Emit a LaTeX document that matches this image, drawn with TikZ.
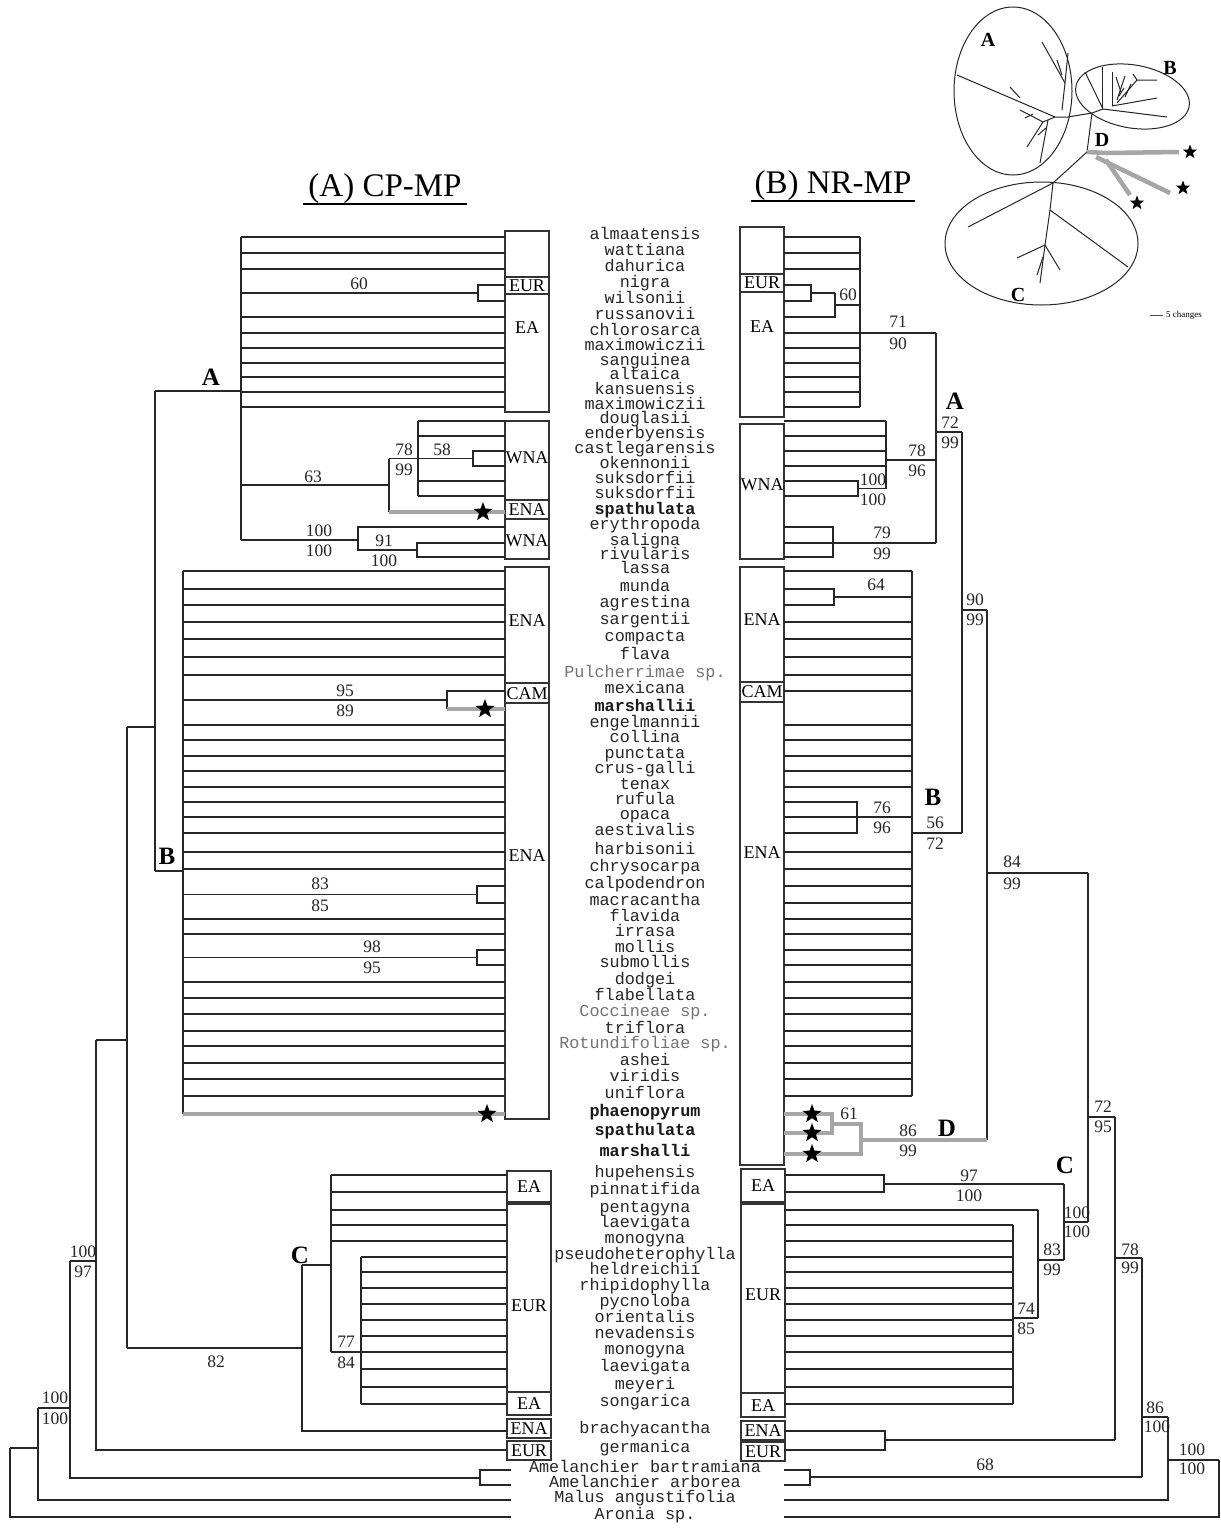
\documentclass[tikz,border=0pt]{standalone}
\usepackage{fontspec}
\setmainfont{Liberation Serif}
\newfontfamily\monof{Liberation Mono}
\usetikzlibrary{shapes.geometric}
\begin{document}
\begin{tikzpicture}[x=1pt,y=-1pt,
  br/.style={line width=1.3pt, black!85},
  gbr/.style={line width=4pt, black!35},
  bx/.style={line width=1.1pt, black!80},
  reg/.style={font=\fontsize{18}{18}\selectfont, inner sep=0},
  bs/.style={font=\fontsize{17.5}{17.5}\selectfont, inner sep=0, text=black!85},
  cl/.style={font=\fontsize{25}{25}\selectfont\bfseries, inner sep=0},
  tx/.style={font=\monof\fontsize{16.8}{16.8}\selectfont, anchor=mid, inner sep=0, text=black!85},
  txb/.style={font=\monof\fontsize{16.8}{16.8}\selectfont\bfseries, anchor=mid, inner sep=0, text=black!90},
  txg/.style={font=\monof\fontsize{16.8}{16.8}\selectfont, anchor=mid, inner sep=0, text=black!55},
  starn/.style={star, star points=5, star point ratio=2.4, fill=black, draw=none, inner sep=0, minimum size=20pt},
  sstar/.style={star, star points=5, star point ratio=2.4, fill=black, draw=none, inner sep=0, minimum size=15pt},
  ttl/.style={font=\fontsize{33}{33}\selectfont, inner sep=0},
  ins/.style={line width=1pt, black!85},
  insg/.style={line width=4.5pt, black!35}]
\fill[white] (0,0) rectangle (1221,1529);
\useasboundingbox (0,0) rectangle (1221,1529);

% rows
\foreach \i/\y in {1/237,2/253,3/269,4/285,5/301,6/317,7/333,8/348,9/363,10/377,11/392,12/407,13/421,14/436,15/451,16/466,17/481,18/496,19/512,20/527,21/543,22/557,23/571,24/589,25/605,26/622,27/639,28/657,29/675,30/691,31/709,32/725,33/740,34/756,35/771,36/787,37/802,38/817,39/833,40/852,41/869,42/886,43/903,44/919,45/934,46/950,47/965,48/982,49/998,50/1014,51/1031,52/1046,53/1063,54/1079,55/1096,56/1114,57/1133,58/1154,59/1175,60/1192,61/1210,62/1225,63/1241,64/1257,65/1272,66/1288,67/1304,68/1320,69/1336,70/1352,71/1369,72/1387,73/1404,74/1431,75/1450,76/1470,77/1485,78/1500,79/1517}
  \coordinate (r\i) at (0,\y);

% taxon labels
\foreach \i/\t in {1/almaatensis,2/wattiana,3/dahurica,4/nigra,5/wilsonii,6/russanovii,7/chlorosarca,8/maximowiczii,9/sanguinea,10/altaica,11/kansuensis,12/maximowiczii,13/douglasii,14/enderbyensis,15/castlegarensis,16/okennonii,17/suksdorfii,18/suksdorfii,20/erythropoda,21/saligna,22/rivularis,23/lassa,24/munda,25/agrestina,26/sargentii,27/compacta,28/flava,30/mexicana,32/engelmannii,33/collina,34/punctata,35/crus-galli,36/tenax,37/rufula,38/opaca,39/aestivalis,40/harbisonii,41/chrysocarpa,42/calpodendron,43/macracantha,44/flavida,45/irrasa,46/mollis,47/submollis,48/dodgei,49/flabellata,51/triflora,53/ashei,54/viridis,55/uniflora,59/hupehensis,60/pinnatifida,61/pentagyna,62/laevigata,63/monogyna,64/pseudoheterophylla,65/heldreichii,66/rhipidophylla,67/pycnoloba,68/orientalis,69/nevadensis,70/monogyna,71/laevigata,72/meyeri,73/songarica,74/brachyacantha,75/germanica,76/Amelanchier bartramiana,77/Amelanchier arborea,78/Malus angustifolia,79/Aronia sp.}
  \node[tx] (t\i) at (r\i -| 645,0) {\t};
\foreach \i/\t in {19/spathulata,31/marshallii,56/phaenopyrum,57/spathulata,58/marshalli}
  \node[txb] (t\i) at (r\i -| 645,0) {\t};
\foreach \i/\t in {29/Pulcherrimae sp.,50/Coccineae sp.,52/Rotundifoliae sp.}
  \node[txg] (t\i) at (r\i -| 645,0) {\t};

% titles
\node[ttl] (ta) at (385,189) {(A) CP-MP};
\draw[line width=1.2pt] (303,204) -- (467,204);
\node[ttl] (tb) at (833,186) {(B) NR-MP};
\draw[line width=1.2pt] (751,201) -- (915,201);

% ---------------- left boxes
\draw[bx] (505,231) rectangle (549,412);
\draw[bx] (505,277) rectangle (549,294);
\node[reg] (lb1) at (527,286) {EUR};
\node[reg] (lb2) at (527,328) {EA};
\draw[bx] (505,421) rectangle (549,500);
\node[reg] (lb3) at (527,458) {WNA};
\draw[bx] (505,500) rectangle (549,519);
\node[reg] (lb4) at (527,510) {ENA};
\draw[bx] (505,519) rectangle (549,559);
\node[reg] (lb5) at (527,541) {WNA};
\draw[bx] (505,567) rectangle (549,683);
\node[reg] (lb6) at (527,621) {ENA};
\draw[bx] (505,683) rectangle (549,703);
\node[reg] (lb7) at (527,694) {CAM};
\draw[bx] (505,703) rectangle (549,1119);
\node[reg] (lb8) at (527,856) {ENA};
\draw[bx] (507,1171) rectangle (551,1202);
\node[reg] (lb9) at (529,1187) {EA};
\draw[bx] (507,1204) rectangle (551,1415);
\draw[bx] (507,1392) rectangle (551,1415);
\node[reg] (lb10) at (529,1306) {EUR};
\node[reg] (lb11) at (529,1404) {EA};
\draw[bx] (507,1419) rectangle (551,1438);
\node[reg] (lb12) at (529,1429) {ENA};
\draw[bx] (507,1441) rectangle (551,1460);
\node[reg] (lb13) at (529,1451) {EUR};

% ---------------- right boxes
\draw[bx] (740,227) rectangle (784,417);
\draw[bx] (740,274) rectangle (784,292);
\node[reg] (rb1) at (762,283) {EUR};
\node[reg] (rb2) at (762,327) {EA};
\draw[bx] (740,424) rectangle (784,559);
\node[reg] (rb3) at (762,485) {WNA};
\draw[bx] (740,567) rectangle (784,682);
\node[reg] (rb4) at (762,620) {ENA};
\draw[bx] (740,682) rectangle (784,702);
\node[reg] (rb5) at (762,692) {CAM};
\draw[bx] (740,702) rectangle (784,1165);
\node[reg] (rb6) at (762,853) {ENA};
\draw[bx] (741,1169) rectangle (785,1202);
\node[reg] (rb7) at (763,1186) {EA};
\draw[bx] (741,1204) rectangle (785,1417);
\draw[bx] (741,1393) rectangle (785,1417);
\node[reg] (rb8) at (763,1295) {EUR};
\node[reg] (rb9) at (763,1406) {EA};
\draw[bx] (741,1421) rectangle (785,1440);
\node[reg] (rb10) at (763,1431) {ENA};
\draw[bx] (741,1442) rectangle (785,1461);
\node[reg] (rb11) at (763,1452) {EUR};

% ================= LEFT TREE
% clade A
\draw[br] (241,0 |- r1) -- (241,540);
\foreach \i in {1,2,3,6,7,8,9,10,11,12} \draw[br] (241,0 |- r\i) -- (505,0 |- r\i);
\draw[br] (505,0 |- r4) -- (478,0 |- r4) -- (478,0 |- r5) -- (505,0 |- r5);
\draw[br] (241,293) -- (478,293);
\node[bs] at (359,284) {60};
\draw[br] (418,0 |- r13) -- (418,0 |- r18);
\foreach \i in {13,14,17,18} \draw[br] (418,0 |- r\i) -- (505,0 |- r\i);
\draw[br] (505,0 |- r15) -- (473,0 |- r15) -- (473,0 |- r16) -- (505,0 |- r16);
\draw[br] (389,458.5) -- (473,458.5);
\node[bs] at (442,450) {58};
\node[bs] at (404,450) {78};
\node[bs] at (404,470) {99};
\draw[br] (389,458.5) -- (389,0 |- r19);
\draw[gbr] (389,0 |- r19) -- (505,0 |- r19);
\node[starn] at (483,0 |- r19) {};
\draw[br] (241,485) -- (389,485);
\node[bs] at (313,477) {63};
\draw[br] (241,540) -- (358,540);
\node[bs] at (319,531) {100};
\node[bs] at (319,551) {100};
\draw[br] (505,0 |- r20) -- (358,0 |- r20) -- (358,550) -- (417,550);
\draw[br] (505,0 |- r21) -- (417,0 |- r21) -- (417,0 |- r22) -- (505,0 |- r22);
\node[bs] at (384,541) {91};
\node[bs] at (384,561) {100};
\draw[br] (155,391) -- (241,391);
\node[cl] at (211,377) {A};

% clade B
\draw[br] (183,0 |- r23) -- (183,0 |- r56);
\foreach \i in {23,24,25,26,27,28,29,32,33,34,35,36,37,38,39,40,41,44,45,48,49,50,51,52,53,54,55}
  \draw[br] (183,0 |- r\i) -- (505,0 |- r\i);
\draw[br] (505,0 |- r30) -- (447,0 |- r30) -- (447,0 |- r31);
\draw[gbr] (447,0 |- r31) -- (505,0 |- r31);
\node[starn] at (485,0 |- r31) {};
\draw[br] (183,700) -- (447,700);
\node[bs] at (345,691) {95};
\node[bs] at (345,711) {89};
\draw[br] (505,0 |- r42) -- (477,0 |- r42) -- (477,0 |- r43) -- (505,0 |- r43);
\draw[br] (183,894.5) -- (477,894.5);
\node[bs] at (320,884) {83};
\node[bs] at (320,906) {85};
\draw[br] (505,0 |- r46) -- (477,0 |- r46) -- (477,0 |- r47) -- (505,0 |- r47);
\draw[br] (183,957.5) -- (477,957.5);
\node[bs] at (372,947) {98};
\node[bs] at (372,968) {95};
\draw[gbr] (183,0 |- r56) -- (505,0 |- r56);
\node[starn] at (487,0 |- r56) {};
\draw[br] (155,871) -- (183,871);
\node[cl] at (167,856) {B};
\draw[br] (155,391) -- (155,871);
\draw[br] (127,727) -- (155,727);

% clade C
\draw[br] (331,0 |- r59) -- (331,1352);
\foreach \i in {59,60,61,62,63} \draw[br] (331,0 |- r\i) -- (507,0 |- r\i);
\draw[br] (361,0 |- r64) -- (361,0 |- r73);
\foreach \i in {64,65,66,67,68,69,70,71,72,73} \draw[br] (361,0 |- r\i) -- (507,0 |- r\i);
\draw[br] (331,1352) -- (361,1352);
\node[bs] at (346,1342) {77};
\node[bs] at (346,1363) {84};
\draw[br] (302,1265) -- (331,1265);
\draw[br] (302,1265) -- (302,0 |- r74) -- (507,0 |- r74);
\node[cl] at (300,1255) {C};
\draw[br] (127,1348) -- (302,1348);
\node[bs] at (216,1362) {82};
\draw[br] (127,727) -- (127,1348);
\draw[br] (96,1040) -- (127,1040);
\draw[br] (96,1040) -- (96,0 |- r75) -- (507,0 |- r75);
\draw[br] (70,1261) -- (96,1261);
\node[bs] at (83,1252) {100};
\node[bs] at (83,1272) {97};
\draw[br] (70,1261) -- (70,1478) -- (480,1478);
\draw[br] (511,0 |- r76) -- (480,0 |- r76) -- (480,0 |- r77) -- (511,0 |- r77);
\draw[br] (38,1408) -- (70,1408);
\node[bs] at (55,1398) {100};
\node[bs] at (55,1419) {100};
\draw[br] (38,1408) -- (38,0 |- r78) -- (511,0 |- r78);
\draw[br] (10,1448) -- (38,1448);
\draw[br] (10,1448) -- (10,0 |- r79) -- (511,0 |- r79);

% ================= RIGHT TREE
% clade A
\draw[br] (860,0 |- r1) -- (860,0 |- r12);
\foreach \i in {1,2,3,7,8,9,10,11,12} \draw[br] (784,0 |- r\i) -- (860,0 |- r\i);
\draw[br] (784,0 |- r4) -- (811,0 |- r4) -- (811,0 |- r5) -- (784,0 |- r5);
\draw[br] (811,293) -- (835,293);
\draw[br] (784,0 |- r6) -- (835,0 |- r6) -- (835,293);
\draw[br] (835,305) -- (860,305);
\node[bs] at (848,295) {60};
\draw[br] (860,0 |- r7) -- (936,0 |- r7);
\node[bs] at (898,322) {71};
\node[bs] at (898,344) {90};
\draw[br] (886,0 |- r13) -- (886,488.5);
\foreach \i in {13,14,15,16} \draw[br] (784,0 |- r\i) -- (886,0 |- r\i);
\draw[br] (784,0 |- r17) -- (858,0 |- r17) -- (858,0 |- r18) -- (784,0 |- r18);
\draw[br] (858,488.5) -- (886,488.5);
\node[bs] at (873,480) {100};
\node[bs] at (873,500) {100};
\draw[br] (886,460) -- (936,460);
\node[bs] at (917,451) {78};
\node[bs] at (917,471) {96};
\draw[br] (784,0 |- r20) -- (833,0 |- r20) -- (833,0 |- r22) -- (784,0 |- r22);
\draw[br] (784,0 |- r21) -- (936,0 |- r21);
\node[bs] at (882,533) {79};
\node[bs] at (882,554) {99};
\draw[br] (936,0 |- r7) -- (936,0 |- r21);
\draw[br] (936,432) -- (962,432);
\node[cl] at (955,401) {A};
\node[bs] at (950,423) {72};
\node[bs] at (950,443) {99};

% clade B
\draw[br] (912,0 |- r23) -- (912,0 |- r55);
\foreach \i in {23,26,27,28,29,30,32,33,34,35,36,38,40,41,42,43,44,45,46,47,48,49,50,51,52,53,54,55}
  \draw[br] (784,0 |- r\i) -- (912,0 |- r\i);
\draw[br] (784,0 |- r24) -- (834,0 |- r24) -- (834,0 |- r25) -- (784,0 |- r25);
\draw[br] (834,597) -- (912,597);
\node[bs] at (876,585) {64};
\draw[br] (784,0 |- r37) -- (857,0 |- r37) -- (857,0 |- r39) -- (784,0 |- r39);
\node[bs] at (882,808) {76};
\node[bs] at (882,828) {96};
\draw[br] (912,0 |- r39) -- (962,0 |- r39);
\node[cl] at (933,797) {B};
\node[bs] at (935,823) {56};
\node[bs] at (935,844) {72};
\draw[br] (962,432) -- (962,0 |- r39);
\draw[br] (962,610) -- (987,610);
\node[bs] at (975,600) {90};
\node[bs] at (975,620) {99};

% clade D
\draw[br] (987,610) -- (987,1140);
\draw[gbr] (784,0 |- r56) -- (832,0 |- r56) -- (832,0 |- r57) -- (784,0 |- r57);
\draw[gbr] (832,1124) -- (861,1124) -- (861,0 |- r58) -- (784,0 |- r58);
\draw[gbr] (861,1140) -- (987,1140);
\node[starn] at (812,0 |- r56) {};
\node[starn] at (812,0 |- r57) {};
\node[starn] at (812,0 |- r58) {};
\node[bs] at (849,1114) {61};
\node[bs] at (908,1131) {86};
\node[bs] at (908,1151) {99};
\node[cl] at (947,1128) {D};
\draw[br] (987,873) -- (1088,873);
\node[bs] at (1012,862) {84};
\node[bs] at (1012,884) {99};

% clade C
\draw[br] (784,0 |- r59) -- (884,0 |- r59) -- (884,0 |- r60) -- (784,0 |- r60);
\draw[br] (884,1184) -- (1064,1184);
\node[bs] at (969,1176) {97};
\node[bs] at (969,1196) {100};
\draw[br] (784,0 |- r61) -- (1038,0 |- r61);
\draw[br] (1013,0 |- r62) -- (1013,0 |- r73);
\foreach \i in {62,63,64,65,66,67,68,69,70,71,72,73} \draw[br] (784,0 |- r\i) -- (1013,0 |- r\i);
\draw[br] (1013,1318) -- (1038,1318);
\node[bs] at (1026,1309) {74};
\node[bs] at (1026,1329) {85};
\draw[br] (1038,0 |- r61) -- (1038,1318);
\draw[br] (1038,1260) -- (1064,1260);
\node[bs] at (1052,1250) {83};
\node[bs] at (1052,1270) {99};
\draw[br] (1064,1184) -- (1064,1260);
\draw[br] (1064,1222) -- (1088,1222);
\node[bs] at (1077,1213) {100};
\node[bs] at (1077,1232) {100};
\node[cl] at (1065,1165) {C};
\draw[br] (1088,873) -- (1088,1222);
\draw[br] (1088,1117) -- (1115,1117);
\node[bs] at (1103,1107) {72};
\node[bs] at (1103,1127) {95};
\draw[br] (784,0 |- r74) -- (885,0 |- r74) -- (885,0 |- r75) -- (784,0 |- r75);
\draw[br] (885,1440) -- (1115,1440);
\draw[br] (1115,1117) -- (1115,1440);
\draw[br] (1115,1258) -- (1142,1258);
\node[bs] at (1130,1250) {78};
\node[bs] at (1130,1268) {99};
\draw[br] (784,0 |- r76) -- (810,0 |- r76) -- (810,0 |- r77) -- (784,0 |- r77);
\draw[br] (810,1477) -- (1142,1477);
\node[bs] at (985,1465) {68};
\draw[br] (1142,1258) -- (1142,1477);
\draw[br] (1142,1417) -- (1168,1417);
\node[bs] at (1155,1408) {86};
\node[bs] at (1157,1427) {100};
\draw[br] (784,0 |- r78) -- (1168,0 |- r78) -- (1168,1417);
\draw[br] (1168,1460) -- (1219,1460);
\node[bs] at (1192,1450) {100};
\node[bs] at (1192,1469) {100};
\draw[br] (784,0 |- r79) -- (1219,0 |- r79) -- (1219,1460);

% ================= INSET
\draw[ins] (1013,91) ellipse [x radius=59, y radius=84];
\draw[ins, rotate around={-10:(1132.5,96.5)}] (1132.5,96.5) ellipse [x radius=57.5, y radius=31.5];
\draw[ins] (1041.5,243.5) ellipse [x radius=96.5, y radius=61.5];
% backbone
\draw[ins] (1055,117) -- (1068,117) -- (1092,113) -- (1103,109);
\draw[ins] (1092,113) -- (1087,152) -- (1053,183);
% A subtree
\draw[ins] (1055,117) -- (957,75);
\draw[ins] (1020,98) -- (1010,87);
\draw[ins] (1062,110) -- (1065,83) -- (1068,53);
\draw[ins] (1065,83) -- (1042,42);
\draw[ins] (1062,75) -- (1057,60);
\draw[ins] (1055,117) -- (1043,122) -- (1027,147);
\draw[ins] (1048,120) -- (1040,163);
\draw[ins] (1043,122) -- (1020,110);
\draw[ins] (1033,114) -- (1025,118);
\draw[ins] (1046,128) -- (1038,135);
% B subtree
\draw[ins] (1103,109) -- (1085,72);
\draw[ins] (1102,108) -- (1102,67);
\draw[ins] (1103,109) -- (1167,117);
\draw[ins] (1112,106) -- (1157,98);
\draw[ins] (1117,103) -- (1137,80) -- (1157,80);
\draw[ins] (1137,80) -- (1133,74);
\draw[ins] (1112,106) -- (1112,72);
\draw[ins] (1117,100) -- (1125,76);
\draw[ins] (1121,92) -- (1116,77);
\draw[ins] (1125,97) -- (1131,84);
\draw[ins] (1119,96) -- (1124,88);
% C subtree
\draw[ins] (1053,183) -- (968,227);
\draw[ins] (1053,183) -- (1050,210) -- (1128,267);
\draw[ins] (1050,210) -- (1045,245) -- (1017,258);
\draw[ins] (1045,245) -- (1060,270);
\draw[ins] (1045,245) -- (1040,283);
\draw[ins] (1043,257) -- (1037,275);
% D grey
\draw[insg] (1087,152) -- (1107,153) -- (1179,152);
\draw[insg] (1096,157) -- (1170,193);
\draw[insg] (1106,160) -- (1130,195);
\node[sstar] at (1190,152) {};
\node[sstar] at (1183,188) {};
\node[sstar] at (1137,203) {};
\node[font=\fontsize{20}{20}\selectfont\bfseries, inner sep=0] at (988,40) {A};
\node[font=\fontsize{20}{20}\selectfont\bfseries, inner sep=0] at (1170,68) {B};
\node[font=\fontsize{20}{20}\selectfont\bfseries, inner sep=0] at (1018,295) {C};
\node[font=\fontsize{20}{20}\selectfont\bfseries, inner sep=0] at (1102,140) {D};
\draw[line width=1pt, black!70] (1150,315) -- (1163,315);
\node[font=\fontsize{9}{9}\selectfont, anchor=west, inner sep=0] at (1166,315) {5 changes};
\end{tikzpicture}
\end{document}
